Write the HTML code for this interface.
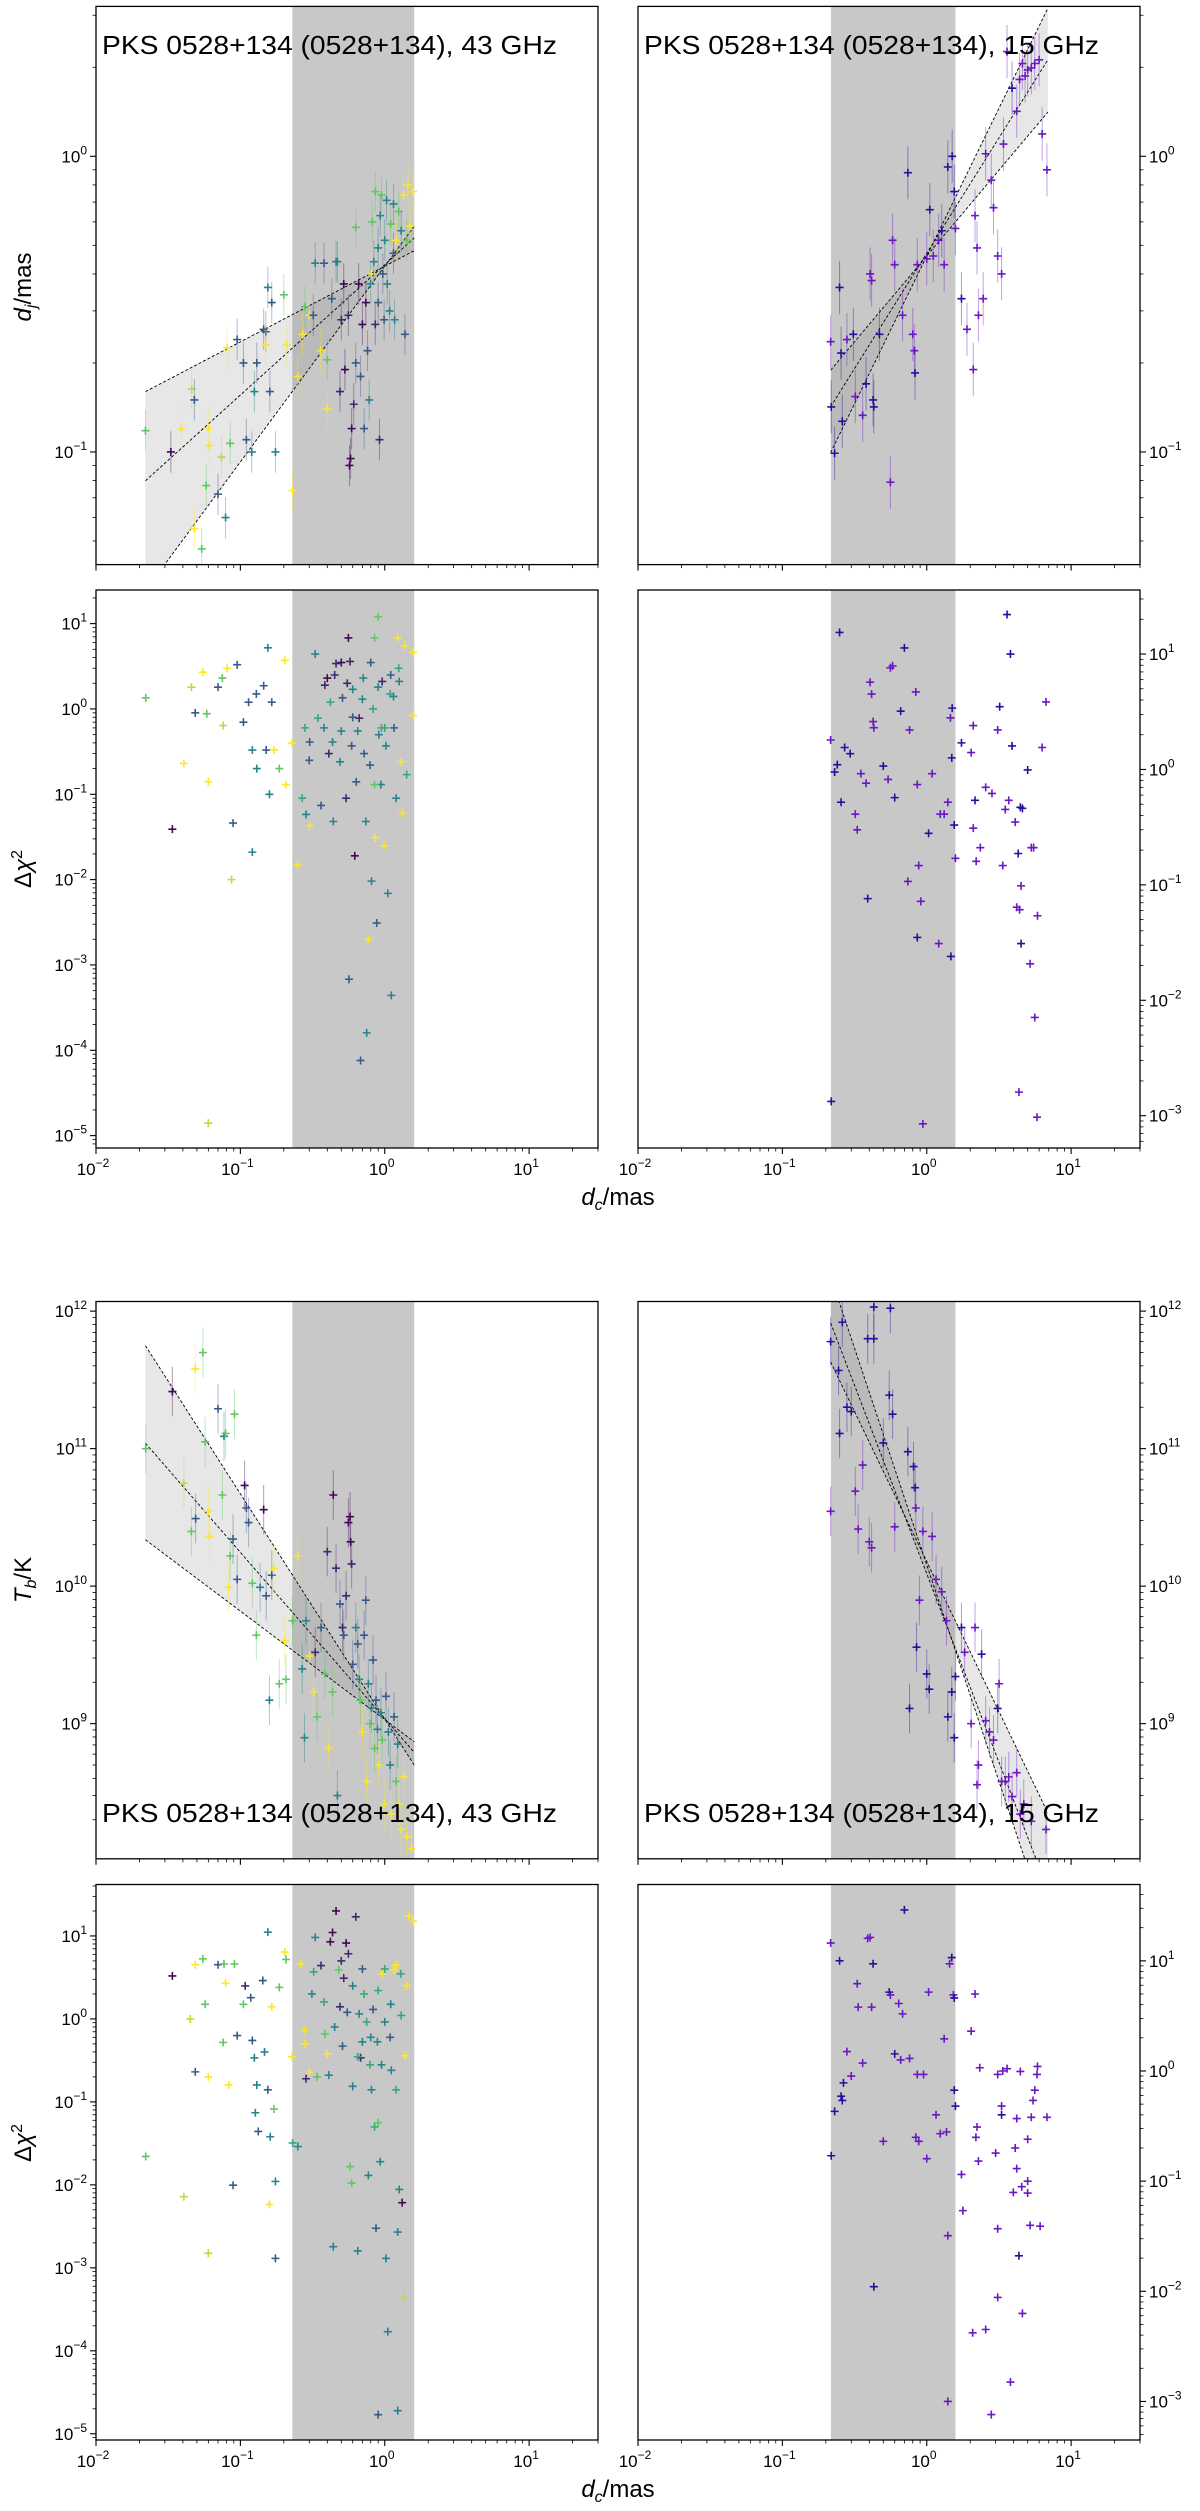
<!DOCTYPE html>
<html><head><meta charset="utf-8"><style>
html,body{margin:0;padding:0;background:#fff;}
svg{display:block;font-family:"Liberation Sans","DejaVu Sans",sans-serif;}
</style></head><body>
<svg id="fig" xmlns="http://www.w3.org/2000/svg" width="1200" height="2511" viewBox="0 0 1200 2511">
<rect width="1200" height="2511" fill="#fff"/>
<g id="root"></g>
<text x="618" y="1205" font-size="24" text-anchor="middle"><tspan font-style="italic">d</tspan><tspan font-style="italic" font-size="16" dy="5">c</tspan><tspan dy="-5">/mas</tspan></text>
<text x="618" y="2497" font-size="24" text-anchor="middle"><tspan font-style="italic">d</tspan><tspan font-style="italic" font-size="16" dy="5">c</tspan><tspan dy="-5">/mas</tspan></text>
<text transform="translate(31,287) rotate(-90)" font-size="24" text-anchor="middle"><tspan font-style="italic">d</tspan><tspan font-style="italic" font-size="16" dy="5">j</tspan><tspan dy="-5">/mas</tspan></text>
<text transform="translate(31,869) rotate(-90)" font-size="24" text-anchor="middle">Δ<tspan font-style="italic">χ</tspan><tspan font-size="16" dy="-9">2</tspan></text>
<text transform="translate(31,1580) rotate(-90)" font-size="24" text-anchor="middle"><tspan font-style="italic">T</tspan><tspan font-style="italic" font-size="16" dy="5">b</tspan><tspan dy="-5">/K</tspan></text>
<text transform="translate(31,2143) rotate(-90)" font-size="24" text-anchor="middle">Δ<tspan font-style="italic">χ</tspan><tspan font-size="16" dy="-9">2</tspan></text>
</svg>
<script>
// ---- data (dc [mas], value, colour class) ----
const p1lPoints=[[0.022,0.118,'g'],[0.033,0.1,'d'],[0.039,0.12,'y'],[0.046,0.163,'Y'],[0.048,0.15,'b'],[0.048,0.055,'y'],[0.054,0.047,'g'],[0.058,0.077,'g'],[0.06,0.12,'y'],[0.061,0.105,'y'],[0.07,0.072,'b'],[0.074,0.096,'Y'],[0.079,0.06,'t'],[0.081,0.225,'y'],[0.085,0.107,'g'],[0.095,0.24,'b'],[0.105,0.2,'b'],[0.11,0.11,'b'],[0.12,0.1,'t'],[0.125,0.16,'t'],[0.13,0.2,'b'],[0.145,0.26,'b'],[0.15,0.255,'b'],[0.155,0.36,'t'],[0.16,0.16,'b'],[0.165,0.32,'b'],[0.15,0.23,'y'],[0.175,0.1,'t'],[0.2,0.34,'g'],[0.21,0.23,'y'],[0.23,0.074,'y'],[0.25,0.18,'y'],[0.27,0.25,'y'],[0.28,0.31,'g'],[0.3,0.29,'y'],[0.32,0.29,'b'],[0.33,0.435,'t'],[0.36,0.22,'y'],[0.38,0.435,'b'],[0.4,0.14,'y'],[0.4,0.205,'g'],[0.43,0.33,'b'],[0.46,0.44,'t'],[0.47,0.44,'t'],[0.49,0.16,'p'],[0.5,0.28,'p'],[0.52,0.37,'d'],[0.53,0.19,'d'],[0.56,0.29,'p'],[0.57,0.09,'d'],[0.58,0.095,'d'],[0.59,0.12,'d'],[0.61,0.145,'p'],[0.63,0.2,'b'],[0.63,0.575,'g'],[0.66,0.37,'d'],[0.68,0.18,'b'],[0.7,0.27,'d'],[0.72,0.12,'b'],[0.74,0.32,'d'],[0.76,0.22,'b'],[0.78,0.15,'t'],[0.8,0.37,'t'],[0.81,0.4,'y'],[0.82,0.6,'g'],[0.84,0.44,'t'],[0.86,0.76,'g'],[0.86,0.27,'p'],[0.9,0.49,'t'],[0.9,0.32,'b'],[0.92,0.11,'p'],[0.93,0.63,'t'],[0.95,0.74,'g'],[0.97,0.4,'b'],[0.99,0.28,'b'],[1.0,0.52,'t'],[1.03,0.71,'t'],[1.04,0.37,'t'],[1.08,0.3,'t'],[1.1,0.59,'g'],[1.15,0.69,'t'],[1.15,0.47,'b'],[1.17,0.28,'t'],[1.2,0.52,'y'],[1.25,0.65,'g'],[1.3,0.56,'t'],[1.35,0.74,'y'],[1.38,0.25,'b'],[1.42,0.52,'g'],[1.45,0.8,'y'],[1.5,0.58,'y'],[1.57,0.76,'y']];
const p1rPoints=[[0.218,0.142,'b'],[0.216,0.236,'p'],[0.23,0.099,'b'],[0.249,0.36,'b'],[0.255,0.216,'b'],[0.26,0.127,'b'],[0.28,0.24,'p'],[0.31,0.25,'b'],[0.32,0.154,'p'],[0.36,0.133,'p'],[0.38,0.17,'b'],[0.405,0.4,'p'],[0.415,0.38,'p'],[0.425,0.15,'b'],[0.43,0.142,'b'],[0.47,0.25,'b'],[0.58,0.52,'p'],[0.6,0.43,'p'],[0.56,0.079,'p'],[0.68,0.29,'p'],[0.74,0.88,'b'],[0.8,0.25,'p'],[0.82,0.22,'p'],[0.83,0.185,'b'],[0.86,0.43,'p'],[1.0,0.45,'p'],[1.05,0.66,'b'],[1.11,0.46,'p'],[1.21,0.52,'p'],[1.27,0.56,'b'],[1.32,0.43,'p'],[1.4,0.92,'b'],[1.5,1.0,'b'],[1.55,0.76,'b'],[1.58,0.57,'p'],[1.74,0.33,'b'],[1.9,0.26,'p'],[2.1,0.19,'p'],[2.16,0.63,'p'],[2.23,0.49,'p'],[2.28,0.29,'p'],[2.46,0.33,'p'],[2.56,1.02,'p'],[2.8,0.83,'p'],[2.9,0.67,'p'],[3.1,0.46,'p'],[3.3,0.4,'p'],[3.4,1.1,'p'],[3.6,2.26,'p'],[3.9,1.7,'b'],[4.2,1.42,'p'],[4.4,1.82,'p'],[4.6,2.06,'p'],[4.8,1.87,'p'],[5.0,1.96,'p'],[5.3,1.99,'p'],[5.6,2.06,'p'],[6.0,2.12,'p'],[6.3,1.19,'p'],[6.8,0.9,'p']];
const p2lPoints=[[0.0221,1.35,'g'],[0.0338,0.039,'d'],[0.0406,0.23,'y'],[0.0458,1.8,'Y'],[0.0487,0.9,'b'],[0.055,2.7,'y'],[0.0585,0.88,'g'],[0.06,0.14,'y'],[0.06,1.4e-5,'Y'],[0.07,1.8,'b'],[0.075,2.3,'g'],[0.076,0.64,'Y'],[0.081,3,'y'],[0.087,0.01,'Y'],[0.089,0.046,'b'],[0.095,3.3,'b'],[0.105,0.7,'b'],[0.114,1.2,'b'],[0.121,0.33,'t'],[0.121,0.021,'t'],[0.129,1.5,'b'],[0.13,0.2,'t'],[0.145,1.87,'b'],[0.151,0.33,'b'],[0.155,5.2,'t'],[0.159,0.1,'t'],[0.165,1.2,'b'],[0.171,0.33,'y'],[0.186,0.2,'g'],[0.203,3.7,'y'],[0.207,0.13,'y'],[0.228,0.4,'y'],[0.25,0.015,'y'],[0.268,0.09,'G'],[0.285,0.058,'t'],[0.302,0.043,'y'],[0.302,0.41,'b'],[0.33,4.4,'t'],[0.345,0.78,'G'],[0.362,0.074,'b'],[0.385,1.9,'p'],[0.4,2.3,'d'],[0.41,0.3,'p'],[0.435,0.41,'t'],[0.44,0.048,'t'],[0.46,3.4,'p'],[0.49,0.24,'t'],[0.51,1.35,'b'],[0.54,0.09,'p'],[0.56,6.8,'d'],[0.565,6.8e-4,'b'],[0.575,3.6,'p'],[0.59,0.37,'b'],[0.6,1.7,'t'],[0.62,0.019,'d'],[0.635,0.14,'b'],[0.665,0.78,'p'],[0.68,7.6e-5,'b'],[0.71,2.3,'t'],[0.74,0.048,'t'],[0.75,1.6e-4,'t'],[0.77,0.002,'y'],[0.79,0.22,'b'],[0.81,0.0096,'t'],[0.83,1.0,'G'],[0.85,6.8,'g'],[0.86,0.031,'y'],[0.88,0.0031,'b'],[0.9,12,'g'],[0.91,0.5,'t'],[0.94,0.13,'t'],[0.96,2.1,'p'],[0.99,0.025,'y'],[1.02,0.37,'t'],[1.05,0.0069,'t'],[1.09,1.5,'G'],[1.11,4.4e-4,'t'],[1.16,0.6,'b'],[1.2,0.09,'t'],[1.23,6.8,'y'],[1.26,2.1,'t'],[1.3,0.24,'y'],[1.33,0.06,'y'],[1.38,5.5,'y'],[1.42,0.17,'G'],[1.57,4.6,'y'],[1.57,0.84,'y'],[0.45,2.5,'p'],[0.5,3.5,'d'],[0.55,2.0,'p'],[0.6,0.8,'b'],[0.7,1.3,'t'],[0.8,3.5,'b'],[0.9,1.8,'t'],[1.0,0.6,'G'],[1.1,2.5,'b'],[0.38,0.6,'t'],[0.42,1.2,'G'],[0.65,0.55,'t'],[0.72,0.3,'b'],[0.95,0.6,'G'],[1.15,1.4,'t'],[0.3,0.25,'b'],[0.28,0.6,'G'],[0.5,0.55,'t'],[0.85,0.13,'g'],[1.25,3,'G']];
const p2rPoints=[[0.216,1.8,'p'],[0.218,0.00133,'b'],[0.23,0.95,'b'],[0.24,1.1,'b'],[0.249,15.4,'b'],[0.255,0.52,'b'],[0.27,1.55,'b'],[0.295,1.37,'b'],[0.32,0.41,'p'],[0.33,0.3,'p'],[0.35,0.92,'p'],[0.38,0.76,'p'],[0.39,0.076,'b'],[0.405,5.7,'p'],[0.415,4.5,'p'],[0.425,2.6,'p'],[0.43,2.3,'p'],[0.5,1.07,'b'],[0.54,0.82,'p'],[0.56,7.6,'p'],[0.58,7.9,'p'],[0.6,0.57,'b'],[0.66,3.2,'b'],[0.7,11.3,'b'],[0.74,0.107,'p'],[0.76,2.2,'p'],[0.84,4.7,'p'],[0.86,0.74,'p'],[0.88,0.147,'p'],[0.91,0.072,'p'],[0.86,0.035,'b'],[0.94,0.00085,'p'],[1.03,0.28,'b'],[1.09,0.92,'p'],[1.21,0.031,'p'],[1.24,0.41,'p'],[1.32,0.41,'p'],[1.4,0.52,'p'],[1.46,2.8,'p'],[1.49,1.26,'b'],[1.5,3.4,'b'],[1.55,0.33,'b'],[1.58,0.17,'p'],[1.47,0.024,'b'],[1.74,1.7,'b'],[2.03,1.4,'p'],[2.1,2.4,'p'],[2.1,0.31,'p'],[2.16,0.54,'b'],[2.2,0.16,'p'],[2.35,0.21,'p'],[2.56,0.7,'p'],[2.83,0.62,'p'],[3.1,2.2,'p'],[3.2,3.5,'b'],[3.36,0.147,'p'],[3.5,0.45,'p'],[3.6,22,'b'],[3.7,0.54,'p'],[3.8,10,'b'],[3.9,1.6,'b'],[4.1,0.35,'p'],[4.2,0.064,'p'],[4.3,0.187,'b'],[4.4,0.061,'p'],[4.45,0.47,'b'],[4.5,0.098,'p'],[4.5,0.031,'b'],[4.6,0.46,'b'],[5.0,0.99,'b'],[5.2,0.0207,'p'],[5.3,0.21,'p'],[5.5,0.21,'p'],[5.6,0.0071,'p'],[5.85,0.054,'p'],[4.35,0.0016,'p'],[5.8,0.00097,'p'],[6.7,3.85,'p'],[6.3,1.55,'p']];
const p3lPoints=[[0.0221,1.0e11,'g'],[0.0338,2.6e11,'d'],[0.0406,5.6e10,'Y'],[0.0458,2.5e10,'g'],[0.0487,3.8e11,'y'],[0.049,3.1e10,'b'],[0.055,5e11,'g'],[0.057,1.12e11,'g'],[0.06,3.5e10,'y'],[0.061,2.3e10,'y'],[0.07,1.95e11,'b'],[0.075,4.6e10,'g'],[0.077,1.23e11,'t'],[0.079,1.29e11,'g'],[0.083,9.8e9,'y'],[0.085,1.66e10,'g'],[0.089,2.2e10,'b'],[0.091,1.78e11,'g'],[0.095,1.12e10,'b'],[0.107,5.4e10,'d'],[0.11,3.7e10,'b'],[0.114,2.9e10,'b'],[0.121,1.05e10,'g'],[0.129,4.4e9,'g'],[0.137,9.8e9,'t'],[0.145,3.6e10,'d'],[0.151,8.5e9,'b'],[0.159,1.48e9,'t'],[0.165,1.2e10,'b'],[0.171,1.35e10,'y'],[0.186,1.95e9,'g'],[0.203,4e9,'y'],[0.207,2.1e9,'g'],[0.23,5.6e9,'g'],[0.25,1.66e10,'y'],[0.268,2.5e9,'t'],[0.278,7.9e8,'t'],[0.285,5.6e9,'t'],[0.302,3.1e9,'y'],[0.322,1.7e9,'y'],[0.33,3.3e9,'p'],[0.34,1.12e9,'g'],[0.362,5e9,'b'],[0.385,2.3e9,'g'],[0.4,1.78e10,'p'],[0.41,6.6e8,'y'],[0.435,1.7e9,'g'],[0.44,4.6e10,'d'],[0.46,1.35e10,'p'],[0.47,3e8,'t'],[0.49,7.4e9,'b'],[0.51,5e9,'p'],[0.52,4.4e9,'b'],[0.54,8.5e9,'p'],[0.56,2.9e10,'d'],[0.575,3.2e10,'d'],[0.58,2.1e10,'d'],[0.59,1.45e10,'p'],[0.6,2.7e9,'b'],[0.63,5e9,'t'],[0.65,3.8e9,'b'],[0.665,2.1e9,'t'],[0.68,1.48e9,'g'],[0.7,8.7e8,'y'],[0.72,4.4e9,'b'],[0.74,7.9e9,'b'],[0.75,3.8e8,'y'],[0.77,1.95e9,'t'],[0.79,1e9,'g'],[0.81,1.3e9,'t'],[0.83,2.9e9,'b'],[0.85,6.6e8,'g'],[0.87,1.48e9,'b'],[0.89,9.1e8,'t'],[0.91,5e8,'y'],[0.94,1.2e9,'t'],[0.96,7.6e8,'g'],[0.99,2.6e8,'y'],[1.02,1.58e9,'b'],[1.06,8.7e8,'t'],[1.09,5e8,'t'],[1.11,2.2e8,'y'],[1.16,1.12e9,'b'],[1.2,3.8e8,'g'],[1.23,7.1e8,'t'],[1.26,2.6e8,'y'],[1.3,1.7e8,'y'],[1.35,4.1e8,'y'],[1.42,1.5e8,'y'],[1.53,1.23e8,'y']];
const p3rPoints=[[0.216,3.5e10,'p'],[0.216,6e11,'b'],[0.245,3.7e11,'b'],[0.249,1.29e11,'b'],[0.26,8.3e11,'b'],[0.28,2e11,'b'],[0.3,1.86e11,'b'],[0.32,4.9e10,'p'],[0.335,2.6e10,'p'],[0.36,7.6e10,'p'],[0.39,6.3e11,'b'],[0.4,2.1e10,'p'],[0.415,1.9e10,'p'],[0.43,1.07e12,'b'],[0.43,6.3e11,'b'],[0.5,1.1e11,'b'],[0.55,2.45e11,'b'],[0.56,1.05e12,'b'],[0.58,1.78e11,'b'],[0.6,2.7e10,'p'],[0.74,9.5e10,'b'],[0.76,1.29e9,'b'],[0.81,7.4e10,'b'],[0.83,5.2e10,'b'],[0.84,3.7e10,'p'],[0.85,3.6e9,'b'],[0.89,7.9e9,'p'],[0.94,2.5e10,'p'],[1.0,2.3e9,'b'],[1.04,1.78e9,'b'],[1.09,2.3e10,'p'],[1.16,1.12e10,'p'],[1.27,9.1e9,'p'],[1.37,5.6e9,'p'],[1.4,1.12e9,'b'],[1.49,1.7e9,'b'],[1.55,7.9e8,'b'],[1.58,2.2e9,'b'],[1.74,5e9,'b'],[1.83,3.3e9,'p'],[2.03,1e9,'p'],[2.16,5e9,'p'],[2.23,3.6e8,'p'],[2.28,5e8,'p'],[2.4,3.2e9,'b'],[2.56,1.05e9,'p'],[2.72,8.7e8,'p'],[2.9,7.6e8,'p'],[3.1,1.29e9,'b'],[3.17,1.95e9,'p'],[3.3,3.8e8,'p'],[3.5,3.8e8,'p'],[3.7,4.1e8,'p'],[3.9,2.95e8,'p'],[4.2,4.4e8,'p'],[4.45,2.2e8,'p'],[4.7,2.6e8,'p'],[5.3,1.95e8,'p'],[6.7,1.7e8,'p']];
const p4lPoints=[[0.0221,0.022,'g'],[0.0338,3.3,'d'],[0.0406,0.0072,'Y'],[0.045,1.0,'Y'],[0.0487,4.5,'y'],[0.0487,0.23,'b'],[0.055,5.3,'g'],[0.057,1.5,'g'],[0.06,0.2,'y'],[0.06,0.0015,'Y'],[0.07,4.5,'b'],[0.076,0.52,'g'],[0.077,4.6,'g'],[0.079,2.7,'y'],[0.083,0.16,'y'],[0.089,0.0099,'b'],[0.091,4.6,'g'],[0.095,0.63,'b'],[0.105,1.5,'g'],[0.108,2.5,'p'],[0.118,1.8,'b'],[0.121,0.55,'b'],[0.125,0.34,'t'],[0.127,0.074,'t'],[0.13,0.16,'t'],[0.133,0.044,'b'],[0.143,2.9,'b'],[0.147,0.4,'t'],[0.155,11.1,'t'],[0.155,0.14,'b'],[0.161,0.038,'t'],[0.165,1.4,'y'],[0.171,0.082,'g'],[0.175,0.011,'t'],[0.175,0.0013,'b'],[0.159,0.0058,'y'],[0.186,2.4,'g'],[0.203,6.4,'y'],[0.207,5.2,'g'],[0.228,0.35,'y'],[0.23,0.032,'G'],[0.25,0.029,'t'],[0.262,4.6,'y'],[0.278,0.73,'y'],[0.285,0.19,'p'],[0.302,0.23,'y'],[0.313,2.0,'t'],[0.322,3.7,'G'],[0.33,9.6,'t'],[0.34,0.2,'g'],[0.362,4.4,'p'],[0.385,0.66,'g'],[0.4,0.38,'y'],[0.41,0.21,'t'],[0.42,8.5,'d'],[0.435,11,'d'],[0.44,0.0018,'t'],[0.46,20,'d'],[0.48,3.9,'g'],[0.49,1.4,'p'],[0.51,0.47,'b'],[0.52,3.1,'p'],[0.54,8.2,'d'],[0.56,6.1,'p'],[0.575,0.0166,'g'],[0.59,0.0105,'g'],[0.6,0.154,'t'],[0.63,17,'p'],[0.65,0.0016,'t'],[0.665,1.15,'t'],[0.68,0.34,'p'],[0.7,0.53,'t'],[0.72,2.0,'G'],[0.75,0.92,'G'],[0.77,0.013,'t'],[0.79,0.28,'G'],[0.81,0.14,'t'],[0.83,1.3,'b'],[0.85,0.05,'G'],[0.87,0.003,'b'],[0.89,0.53,'t'],[0.9,0.056,'g'],[0.93,0.019,'t'],[0.96,3.5,'y'],[1.0,0.92,'t'],[1.02,0.0013,'t'],[1.05,1.7e-4,'t'],[1.09,0.6,'b'],[1.11,0.24,'t'],[1.16,3.9,'y'],[1.2,0.14,'G'],[1.23,0.0027,'t'],[1.26,0.0088,'t'],[1.29,3.5,'G'],[1.32,0.0061,'d'],[1.35,4.4e-4,'Y'],[1.38,0.36,'y'],[1.42,2.5,'y'],[1.47,17.4,'y'],[1.57,15,'y'],[1.23,1.9e-5,'t'],[0.9,1.7e-5,'b'],[0.5,5,'p'],[0.55,1.2,'b'],[0.6,2.5,'t'],[0.7,4,'b'],[0.8,0.6,'t'],[0.9,2.2,'G'],[1.0,4,'G'],[1.1,1.5,'t'],[0.45,0.8,'t'],[0.65,0.35,'G'],[0.95,0.28,'t'],[1.2,4.5,'y'],[1.3,1.1,'G'],[0.38,1.6,'G'],[0.28,0.5,'y']];
const p4rPoints=[[0.216,14.5,'p'],[0.218,0.17,'b'],[0.249,10,'b'],[0.23,0.43,'b'],[0.255,0.59,'b'],[0.26,0.54,'b'],[0.265,0.78,'b'],[0.28,1.5,'p'],[0.3,0.9,'p'],[0.33,6.2,'p'],[0.335,3.8,'p'],[0.36,1.18,'p'],[0.39,16,'p'],[0.405,16.3,'p'],[0.415,3.8,'p'],[0.425,9.4,'b'],[0.43,0.011,'b'],[0.5,0.23,'p'],[0.55,5.2,'b'],[0.56,4.9,'p'],[0.6,1.43,'b'],[0.64,4.1,'p'],[0.66,1.26,'p'],[0.68,3.3,'p'],[0.7,29,'b'],[0.76,1.3,'p'],[0.84,0.25,'p'],[0.86,0.93,'p'],[0.88,0.23,'p'],[0.95,0.93,'p'],[1.0,0.16,'p'],[1.03,5.2,'p'],[1.16,0.4,'p'],[1.24,0.27,'p'],[1.32,1.96,'p'],[1.37,0.28,'p'],[1.4,0.032,'p'],[1.44,9.4,'p'],[1.49,10.7,'b'],[1.53,4.9,'p'],[1.55,4.6,'b'],[1.55,0.67,'b'],[1.58,0.48,'b'],[1.4,0.001,'p'],[1.74,0.115,'p'],[1.78,0.054,'p'],[2.03,2.3,'p'],[2.08,0.0042,'p'],[2.16,5.0,'p'],[2.19,0.25,'p'],[2.23,0.31,'p'],[2.28,0.152,'p'],[2.33,1.07,'p'],[2.56,0.0045,'p'],[2.8,7.6e-4,'p'],[3.0,0.18,'p'],[3.1,0.93,'p'],[3.1,0.037,'p'],[3.1,0.0088,'p'],[3.3,0.4,'b'],[3.3,0.48,'p'],[3.36,1.0,'p'],[3.6,1.05,'p'],[3.8,0.0015,'p'],[3.98,0.079,'p'],[4.1,0.2,'p'],[4.2,0.37,'p'],[4.2,0.13,'p'],[4.35,0.021,'b'],[4.45,0.99,'p'],[4.55,0.089,'p'],[4.6,0.0063,'p'],[5.0,0.24,'p'],[5.0,0.1,'p'],[5.0,0.078,'p'],[5.2,0.0397,'p'],[5.3,0.38,'p'],[5.45,0.54,'p'],[5.6,0.67,'p'],[5.8,0.93,'p'],[5.85,1.1,'p'],[6.1,0.039,'p'],[6.8,0.38,'p']];
// power-law fits: [amplitude at dc=1, slope]
const p1lFits=[[0.425,0.256],[0.43,0.441],[0.425,0.662]];
const p1rFits=[[0.46,0.58],[0.47,0.78],[0.46,0.999]];
const p3lFits=[[1.07e9,-0.789],[1.09e9,-1.208],[1.08e9,-1.638]];
const p3rFits=[[1.51e10,-2.18],[1.23e10,-2.74],[1.43e10,-3.15]];
const leftFitRange=[0.022,1.6];
const rightFitRange=[0.216,6.9];
const leftCoreBand=[0.229,1.6];
const rightCoreBand=[0.217,1.58];
const xLim=[0.01,30];
const xTickExps=[-2,-1,0,1];
const titles43='PKS 0528+134 (0528+134), 43 GHz';
const titles15='PKS 0528+134 (0528+134), 15 GHz';

const NS='http://www.w3.org/2000/svg';
const root=document.getElementById('root');
function mk(tag,attrs,parent){const e=document.createElementNS(NS,tag);for(const k in attrs)e.setAttribute(k,attrs[k]);(parent||root).appendChild(e);return e;}
const V=[[0,[68,1,84]],[0.25,[59,82,139]],[0.5,[33,145,140]],[0.75,[94,201,98]],[1,[253,231,37]]];
const cls={d:0.02,p:0.12,b:0.28,t:0.45,G:0.6,g:0.75,Y:0.9,y:1.0};
function viridis(t){for(let i=0;i<V.length-1;i++){if(t<=V[i+1][0]){const f=(t-V[i][0])/(V[i+1][0]-V[i][0]);const a=V[i][1],b=V[i+1][1];return 'rgb('+a.map((v,j)=>Math.round(v+(b[j]-v)*f)).join(',')+')';}}return 'rgb(253,231,37)';}
function rightColor(c){return c==='b'?'#24109c':'#6c16c4';}

const panels=[
 {name:'dj-43ghz',x0:96,x1:598,y0:6.4,y1:564.6,ylo:-1.381,yhi:0.507,side:'l',xl:false,pts:p1lPoints,fits:p1lFits,fr:leftFitRange,band:leftCoreBand,err:0.07,title:titles43,ty:54},
 {name:'dj-15ghz',x0:638,x1:1140,y0:6.4,y1:564.6,ylo:-1.381,yhi:0.507,side:'r',xl:false,pts:p1rPoints,fits:p1rFits,fr:rightFitRange,band:rightCoreBand,err:0.09,title:titles15,ty:54},
 {name:'dchi2-dj-43ghz',x0:96,x1:598,y0:590,y1:1148,ylo:-5.145,yhi:1.394,side:'l',xl:true,pts:p2lPoints,band:leftCoreBand},
 {name:'dchi2-dj-15ghz',x0:638,x1:1140,y0:590,y1:1148,ylo:-3.28,yhi:1.555,side:'r',xl:true,pts:p2rPoints,band:rightCoreBand},
 {name:'tb-43ghz',x0:96,x1:598,y0:1301.5,y1:1858.8,ylo:8.017,yhi:12.07,side:'l',xl:false,pts:p3lPoints,fits:p3lFits,fr:leftFitRange,band:leftCoreBand,err:0.18,title:titles43,ty:1822},
 {name:'tb-15ghz',x0:638,x1:1140,y0:1301.5,y1:1858.8,ylo:8.017,yhi:12.07,side:'r',xl:false,pts:p3rPoints,fits:p3rFits,fr:rightFitRange,band:rightCoreBand,err:0.18,title:titles15,ty:1822},
 {name:'dchi2-tb-43ghz',x0:96,x1:598,y0:1884.5,y1:2440,ylo:-5.075,yhi:1.62,side:'l',xl:true,pts:p4lPoints,band:leftCoreBand},
 {name:'dchi2-tb-15ghz',x0:638,x1:1140,y0:1884.5,y1:2440,ylo:-3.35,yhi:1.693,side:'r',xl:true,pts:p4rPoints,band:rightCoreBand}
];
const lx0=Math.log10(xLim[0]),lx1=Math.log10(xLim[1]);
function expLabel(g,x,y,e,anchor,name){
  const t=mk('text',{x:x,y:y,'font-size':17,'text-anchor':anchor},g);
  
  
  t.appendChild(document.createTextNode('10'));
  const s=mk('tspan',{dy:-8,'font-size':12},t);
  s.textContent=(e<0?'\u2212':'')+Math.abs(e);
}
panels.forEach((P,pi)=>{
  const g=mk('g',{});
  
  
  const w=P.x1-P.x0,h=P.y1-P.y0;
  const sx=v=>P.x0+(Math.log10(v)-lx0)/(lx1-lx0)*w;
  const sy=v=>P.y1-(Math.log10(v)-P.ylo)/(P.yhi-P.ylo)*h;
  const cid='clip'+pi;
  const cp=mk('clipPath',{id:cid},g);mk('rect',{x:P.x0,y:P.y0,width:w,height:h},cp);
  const inner=mk('g',{'clip-path':'url(#'+cid+')'},g);
  const band=mk('rect',{x:sx(P.band[0]),y:P.y0,width:sx(P.band[1])-sx(P.band[0]),height:h,fill:'#c8c8c8'},inner);
  
  
  if(P.fits){
    const N=60,up=[],lo=[];
    const a=Math.log10(P.fr[0]),b=Math.log10(P.fr[1]);
    for(let i=0;i<=N;i++){const lx=a+(b-a)*i/N,x=Math.pow(10,lx);
      const vals=P.fits.map(f=>f[0]*Math.pow(x,f[1]));
      up.push(sx(x)+','+sy(Math.max(...vals)));lo.unshift(sx(x)+','+sy(Math.min(...vals)));}
    const poly=mk('polygon',{points:up.concat(lo).join(' '),fill:'rgba(120,120,120,0.18)'},inner);
    
    
    P.fits.forEach((f,k)=>{
      const x1=P.fr[0],x2=P.fr[1];
      const ln=mk('line',{x1:sx(x1),y1:sy(f[0]*Math.pow(x1,f[1])),x2:sx(x2),y2:sy(f[0]*Math.pow(x2,f[1])),stroke:'#000','stroke-width':0.9,'stroke-dasharray':'3,2'},inner);
      
      
    });
  }
  P.pts.forEach((p,k)=>{
    const col=P.side==='l'?viridis(cls[p[2]]??0.5):rightColor(p[2]);
    const X=sx(p[0]),Y=sy(p[1]);
    if(P.err){const f=Math.pow(10,P.err);
      mk('line',{x1:X,x2:X,y1:sy(p[1]*f),y2:sy(p[1]/f),stroke:col,'stroke-width':1,opacity:0.4},inner);}
    const m=mk('path',{d:`M${X-4},${Y}h8M${X},${Y-4}v8`,stroke:col,'stroke-width':1.6,fill:'none'},inner);
    
    
  });
  // spines
  const fr=mk('rect',{x:P.x0,y:P.y0,width:w,height:h,fill:'none',stroke:'#000','stroke-width':1.3},g);
  
  
  // x ticks
  for(let e=-2;e<=1;e++){for(let m=1;m<=9;m++){const v=m*Math.pow(10,e);if(v<xLim[0]||v>xLim[1])continue;
    const X=sx(v),L=m===1?6:3.5;mk('line',{x1:X,x2:X,y1:P.y1,y2:P.y1+L,stroke:'#000','stroke-width':m===1?1.1:0.8},g);}}
  if(P.xl){xTickExps.forEach(e=>expLabel(g,sx(Math.pow(10,e))-3,P.y1+27,e,'middle','x-tick-label'));}
  // y ticks
  const dir=P.side==='l'?-1:1,ex=P.side==='l'?P.x0:P.x1;
  for(let e=Math.floor(P.ylo);e<=Math.ceil(P.yhi);e++){for(let m=1;m<=9;m++){const lv=e+Math.log10(m);if(lv<P.ylo||lv>P.yhi)continue;
    const Y=P.y1-(lv-P.ylo)/(P.yhi-P.ylo)*h,L=m===1?6:3.5;
    mk('line',{x1:ex,x2:ex+dir*L,y1:Y,y2:Y,stroke:'#000','stroke-width':m===1?1.1:0.8},g);
    if(m===1){ if(P.side==='l')expLabel(g,ex-9,Y+6,e,'end','y-tick-label'); else expLabel(g,ex+9,Y+6,e,'start','y-tick-label');}}}
  if(P.title){const t=mk('text',{x:P.x0+6,y:P.ty,'font-size':26,textLength:455,lengthAdjust:'spacingAndGlyphs'},g);
    
    
    t.textContent=P.title;}
});
</script>
</body></html>
